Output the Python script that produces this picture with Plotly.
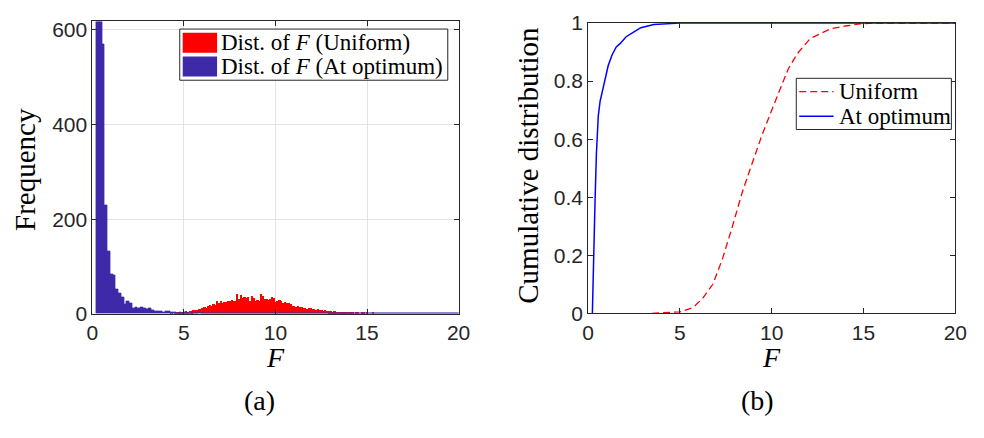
import plotly.graph_objects as go

# ---- histogram data: counts per bin of F ----
uniform_bin_start = 4.3
uniform_bin_width = 0.1
uniform_counts = [
    1, 0, 2, 1, 2, 1, 3,
    2, 4, 3, 5, 4,
    7, 6, 8, 10, 9,
    11, 13, 12, 16, 17,
    15, 20, 18, 25, 22,
    27, 21, 24, 23, 27,
    26, 28, 25, 27, 41,
    30, 39, 33, 34, 32,
    35, 27, 37, 33, 27,
    28, 26, 41, 36, 30,
    31, 29, 30, 34, 33,
    24, 26, 29, 27, 22,
    23, 21, 22, 20, 16,
    15, 14, 16, 13, 14,
    11, 12, 10, 11, 12,
    9, 10, 8, 9, 7,
    8, 5, 6, 5, 4,
    4, 3, 4, 2, 3,
    3, 2, 3, 1, 2,
    1, 2, 1, 0, 2,
    1, 0, 1, 2, 0,
    1, 0, 0, 1, 0,
]

optimum_bin_start = 0.23
optimum_bin_width = 0.15
optimum_counts = [
    1600, 800, 570, 230, 131, 84, 80, 52, 42, 34,
    20, 26, 22, 12, 14, 12, 13, 12, 9, 12,
    6, 5, 5, 4, 2, 5, 4, 2, 3, 1,
    2, 1, 2, 1, 1, 0, 1, 2, 1, 0,
    1, 1, 0, 1, 1, 0, 1, 0, 1, 1,
    0, 1, 0, 0, 1, 1, 0, 1, 0, 0,
    1, 0, 1, 0, 0, 1, 0, 0, 1, 0,
    0, 1, 0, 0, 0, 1, 0, 0, 1, 0,
    0, 0, 1, 0, 0, 0, 0, 1, 0, 0,
    0, 0, 0, 0, 0, 1, 0, 0, 0, 0,
    0, 0, 0, 0, 0, 0, 0, 1, 0, 0,
    0, 0, 0, 0, 0, 0, 0, 0, 0, 0,
    0, 0, 0, 0, 0, 0, 0, 0, 0, 0,
    0, 0,
]

# ---- empirical cumulative distributions ----
uniform_cdf_F = [3.48, 4.5, 5.0, 5.72, 6.26, 6.79, 7.33, 7.86, 8.4, 8.93, 9.47,
                 10.0, 10.5, 10.9, 11.4, 12.1, 13.2, 14.0, 14.8, 15.5, 20.0]
uniform_cdf = [0.0, 0.002, 0.005, 0.02, 0.053, 0.10, 0.19, 0.30, 0.418, 0.516, 0.614,
               0.70, 0.78, 0.842, 0.895, 0.947, 0.98, 0.99, 0.997, 1.0, 1.0]

optimum_cdf_F = [0.23, 0.26, 0.30, 0.375, 0.45, 0.55, 0.65, 0.82, 1.09, 1.3, 1.53,
                 1.75, 2.07, 2.45, 2.87, 3.58, 4.3, 5.0, 20.0]
optimum_cdf = [0.0, 0.10, 0.22, 0.385, 0.55, 0.679, 0.73, 0.777, 0.853, 0.89, 0.918,
               0.93, 0.953, 0.968, 0.984, 0.995, 0.998, 1.0, 1.0]

x_ticks = [0, 5, 10, 15, 20]
freq_ticks = [0, 200, 400, 600]
cdf_ticks = [0, 0.2, 0.4, 0.6, 0.8, 1]
cdf_tick_text = ["0", "0.2", "0.4", "0.6", "0.8", "1"]

RED = "rgb(255,0,0)"
PURPLE = "rgb(62,42,168)"
BLUE = "rgb(0,0,255)"
AXIS = "#262626"
SERIF = "Liberation Serif"
SANS = "Liberation Sans"

W, H = 984, 438


def px(x):
    return x / W


def py(y):
    return 1 - y / H


def centers(start, width, n):
    return [start + width * (i + 0.5) for i in range(n)]


fig = go.Figure()

fig.add_trace(go.Bar(
    x=centers(uniform_bin_start, uniform_bin_width, len(uniform_counts)),
    y=uniform_counts, width=uniform_bin_width,
    marker=dict(color=RED, line=dict(width=0)),
    name="Dist. of F (Uniform)", xaxis="x", yaxis="y", showlegend=False,
))
fig.add_trace(go.Bar(
    x=centers(optimum_bin_start, optimum_bin_width, len(optimum_counts)),
    y=optimum_counts, width=optimum_bin_width,
    marker=dict(color=PURPLE, line=dict(width=0.8, color=PURPLE)),
    name="Dist. of F (At optimum)", xaxis="x", yaxis="y", showlegend=False,
))

fig.add_trace(go.Scatter(
    x=uniform_cdf_F, y=uniform_cdf, mode="lines",
    line=dict(color=RED, width=1.3, dash="7px,4px"),
    name="Uniform", xaxis="x2", yaxis="y2", showlegend=False,
))
fig.add_trace(go.Scatter(
    x=optimum_cdf_F, y=optimum_cdf, mode="lines",
    line=dict(color=BLUE, width=1.5),
    name="At optimum", xaxis="x2", yaxis="y2", showlegend=False,
))

axis_common = dict(
    showline=True, linecolor=AXIS, linewidth=1, mirror="ticks",
    ticks="inside", ticklen=5, tickcolor=AXIS, tickwidth=1,
    zeroline=False, tickfont=dict(family=SANS, size=21, color=AXIS),
)

fig.update_layout(
    width=W, height=H,
    margin=dict(l=0, r=0, t=0, b=0),
    paper_bgcolor="white", plot_bgcolor="white",
    barmode="overlay", bargap=0,
    showlegend=False,
    xaxis=dict(domain=[px(88), px(461)], range=[0, 20], tickvals=x_ticks,
               showgrid=True, gridcolor="#e3e3e3", gridwidth=1, anchor="y",
               **axis_common),
    yaxis=dict(domain=[py(318.5), py(10)], range=[0, 618], tickvals=freq_ticks,
               showgrid=True, gridcolor="#e3e3e3", gridwidth=1, anchor="x",
               **axis_common),
    xaxis2=dict(domain=[px(593), px(967)], range=[0, 20], tickvals=x_ticks,
                showgrid=False, anchor="y2", **axis_common),
    yaxis2=dict(domain=[py(318), py(11.7)], range=[0, 1], tickvals=cdf_ticks,
                ticktext=cdf_tick_text, showgrid=False, anchor="x2", **axis_common),
)

shapes = []
annotations = []


def text_at(x, y, text, size, angle=0, xanchor="center"):
    return dict(xref="paper", yref="paper", x=px(x), y=py(y), text=text,
                textangle=angle, showarrow=False, xanchor=xanchor, yanchor="middle",
                font=dict(family=SERIF, size=size, color="black"))


# legend of the histogram panel
shapes.append(dict(type="rect", xref="paper", yref="paper",
                   x0=px(177), x1=px(450), y0=py(72), y1=py(18),
                   line=dict(color=AXIS, width=1), fillcolor="white"))
for (y0, y1, color, label) in [
    (22, 43, RED, "Dist. of <i>F</i> (Uniform)"),
    (47, 68, PURPLE, "Dist. of <i>F</i> (At optimum)"),
]:
    shapes.append(dict(type="rect", xref="paper", yref="paper",
                       x0=px(180), x1=px(215), y0=py(y1), y1=py(y0),
                       line=dict(width=0), fillcolor=color))
    annotations.append(text_at(217, (y0 + y1) / 2, label, 23, xanchor="left"))

# legend of the CDF panel
shapes.append(dict(type="rect", xref="paper", yref="paper",
                   x0=px(805), x1=px(963), y0=py(124), y1=py(70),
                   line=dict(color=AXIS, width=1), fillcolor="white"))
for (yy, color, dash, width, label) in [
    (84, RED, "7px,4px", 1.3, "Uniform"),
    (110, BLUE, "solid", 1.5, "At optimum"),
]:
    shapes.append(dict(type="line", xref="paper", yref="paper",
                       x0=px(808), x1=px(843), y0=py(yy), y1=py(yy),
                       line=dict(color=color, width=width, dash=dash)))
    annotations.append(text_at(846, yy, label, 23, xanchor="left"))

# axis titles and panel captions
annotations += [
    text_at(20, 166, "Frequency", 29, angle=-90),
    text_at(532, 162, "Cumulative distribution", 29, angle=-90),
    text_at(274.5, 365, "<i>F</i>", 28),
    text_at(780, 365, "<i>F</i>", 28),
    text_at(258, 410, "(a)", 28),
    text_at(766, 410, "(b)", 28),
]

fig.update_layout(shapes=shapes, annotations=annotations)

fig.write_html("out.html")
